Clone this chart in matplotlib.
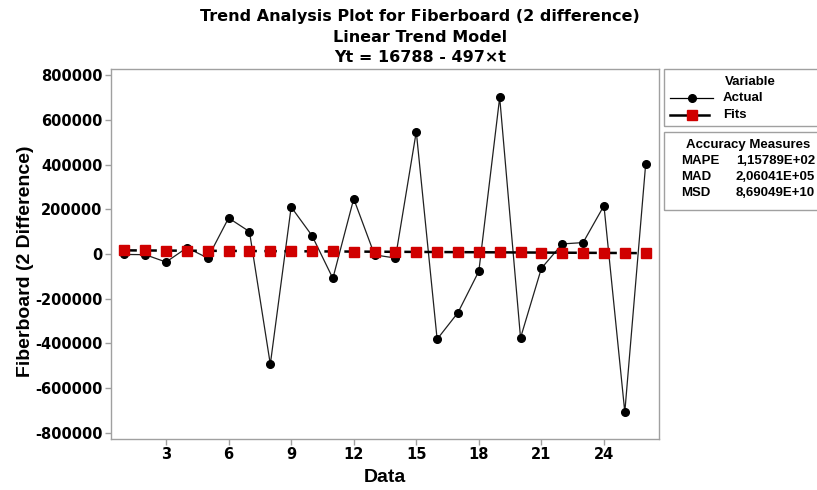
import matplotlib
matplotlib.use("Agg")
import matplotlib.pyplot as plt
from matplotlib.patches import Rectangle
from matplotlib.lines import Line2D

plt.rcParams['font.family'] = ['Liberation Sans', 'DejaVu Sans']
plt.rcParams['font.weight'] = 'bold'
WIDE = ['DejaVu Sans']

# data
t = list(range(1, 27))
actual = [-2000, -3000, -36000, 28000, -18000, 161000, 100000, -493000, 210000, 82000,
          -109000, 247000, -4000, -18000, 547000, -381000, -262000, -77000, 700000, -375000,
          -64000, 45000, 51000, 216000, -707000, 401000]
# Yt = 16788 - 497*t
fits = [16291, 15794, 15297, 14800, 14303, 13806, 13309, 12812, 12315, 11818,
        11321, 10824, 10327, 9830, 9333, 8836, 8339, 7842, 7345, 6848,
        6351, 5854, 5357, 4860, 4363, 3866]
xticks = [3, 6, 9, 12, 15, 18, 21, 24]
yticks = [-800000, -600000, -400000, -200000, 0, 200000, 400000, 600000, 800000]
measures = ["MAPE", "MAD", "MSD"]
measure_vals = ["1,15789E+02", "2,06041E+05", "8,69049E+10"]

W, H = 817, 490
fig = plt.figure(figsize=(W / 100, H / 100), dpi=100)
ax = fig.add_axes([111 / W, 1 - 439 / H, (659 - 111) / W, (439 - 69) / H])

grey = '#a0a0a0'
ax.plot(t, actual, color='#202020', lw=0.9, marker='o', ms=5.5,
        mfc='black', mec='black', zorder=3)
ax.plot(t, fits, color='black', lw=1.8, ls=(0, (5, 3)), marker='s', ms=6.5,
        mfc='#d00000', mec='#d00000', zorder=4)

ax.set_xlim(0.36, 26.64)
ax.set_ylim(-827000, 827000)
ax.set_xticks(xticks)
ax.set_yticks(yticks)
ax.set_yticklabels([str(v) for v in yticks])
ax.tick_params(axis='both', labelsize=10.5, color=grey, length=4, width=1, pad=2)
for lab in ax.get_xticklabels() + ax.get_yticklabels():
    lab.set_fontweight('bold')
    lab.set_family(WIDE)
for s in ax.spines.values():
    s.set_color(grey)
    s.set_linewidth(1)

ax.set_xlabel("Data", fontsize=14, fontweight='bold', labelpad=5)
ax.set_ylabel("Fiberboard (2 Difference)", fontsize=14, fontweight='bold')
ax.yaxis.set_label_coords((34 - 111) / 548, 0.48)

for i, line in enumerate(["Trend Analysis Plot for Fiberboard (2 difference)",
                          "Linear Trend Model",
                          "Yt = 16788 - 497\u00d7t"]):
    fig.text(420 / W, 1 - (17 + 20 * i) / H, line, ha='center', va='center',
             fontsize=11.5, fontweight='bold', family=WIDE)

# legend box
fig.patches.append(Rectangle((664 / W, 1 - 126 / H), 160 / W, 57 / H,
                             transform=fig.transFigure, fill=False, ec=grey, lw=1))
fig.text(750 / W, 1 - 82 / H, "Variable", ha='center', va='center', fontsize=9.5)
fig.lines.append(Line2D([670 / W, 713 / W], [1 - 98 / H] * 2, transform=fig.transFigure,
                        color='black', lw=0.9))
fig.lines.append(Line2D([692 / W], [1 - 98 / H], transform=fig.transFigure,
                        color='black', marker='o', ms=5.5, ls='none'))
fig.text(723 / W, 1 - 98 / H, "Actual", ha='left', va='center', fontsize=9.5)
fig.lines.append(Line2D([670 / W, 709 / W], [1 - 115 / H] * 2, transform=fig.transFigure,
                        color='black', lw=1.8))
fig.lines.append(Line2D([692 / W], [1 - 115 / H], transform=fig.transFigure,
                        color='#d00000', marker='s', ms=6.5, ls='none'))
fig.text(723 / W, 1 - 115 / H, "Fits", ha='left', va='center', fontsize=9.5)

# accuracy measures box
fig.patches.append(Rectangle((664 / W, 1 - 210 / H), 160 / W, 78 / H,
                             transform=fig.transFigure, fill=False, ec=grey, lw=1))
fig.text(748 / W, 1 - 145 / H, "Accuracy Measures", ha='center', va='center', fontsize=9.5)
for i, (m, v) in enumerate(zip(measures, measure_vals)):
    y = 1 - (161 + 16 * i) / H
    fig.text(681 / W, y, m, ha='left', va='center', fontsize=9.5)
    fig.text(815 / W, y, v, ha='right', va='center', fontsize=9.5)

fig.savefig("out.png", dpi=100)
